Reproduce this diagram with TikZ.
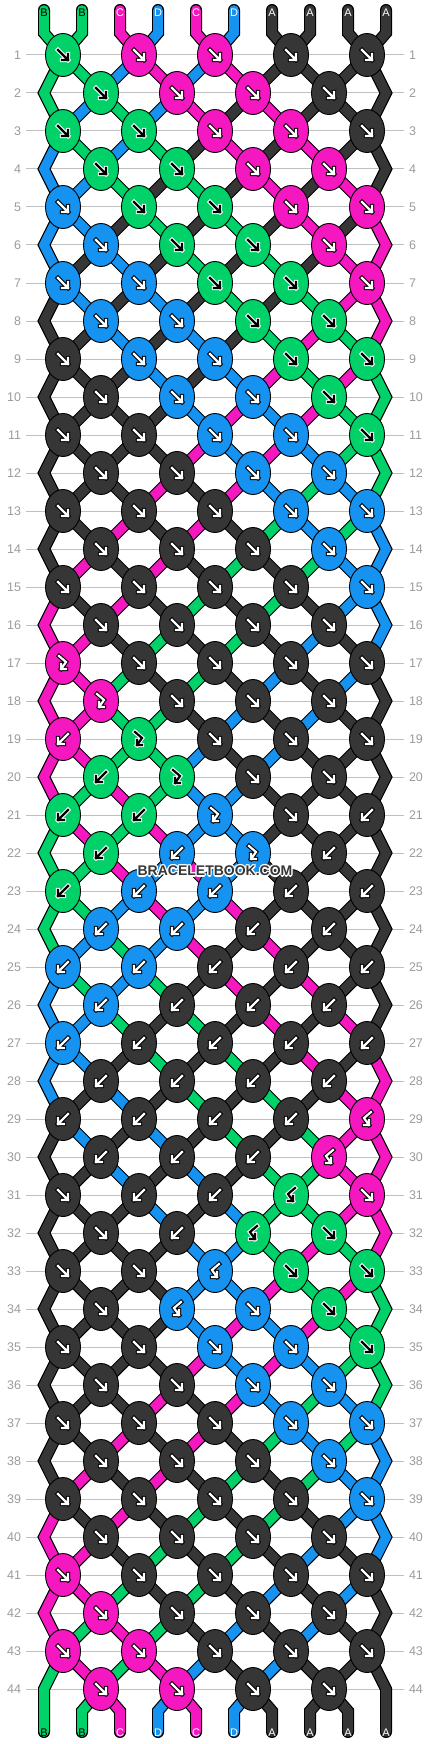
\documentclass[tikz,border=0pt]{standalone}
\usepackage{fontspec}
\setmainfont{Liberation Sans}
\usetikzlibrary{shapes.geometric}
\definecolor{bbgreen}{RGB}{0,209,104}
\definecolor{bbpink}{RGB}{245,24,192}
\definecolor{bbblue}{RGB}{22,146,240}
\definecolor{bbdark}{RGB}{54,54,54}
\definecolor{bbrule}{RGB}{192,192,192}
\definecolor{bbnum}{RGB}{155,155,155}

% thread letter -> fill, arrow and rim colours
\def\colB{bbgreen}\def\colC{bbpink}\def\colD{bbblue}\def\colA{bbdark}
\def\labB{black}\def\labC{white}\def\labD{white}\def\labA{white}
\def\rimB{white}\def\rimC{black}\def\rimD{black}\def\rimA{black}

\pgfdeclarelayer{rules}
\pgfdeclarelayer{threadrim}
\pgfdeclarelayer{threadfill}
\pgfsetlayers{rules,threadrim,threadfill,main}

\tikzset{
  knot/.style={ellipse, draw=black, line width=0.9pt, minimum width=35pt,
    minimum height=43pt, inner sep=0pt},
  rownum/.style={text=bbnum, font=\fontsize{12.5}{13}\selectfont,
    inner sep=0pt, outer sep=5pt},
  rowrule/.style={bbrule, line width=1pt},
  threadedge/.style={draw=black, line width=12pt, line join=miter, line cap=round},
  threadcol/.style={line width=9.6pt, line join=miter, line cap=round},
  arrowrim/.style={line width=4.4pt, line cap=rect, line join=miter},
  arrowfill/.style={line width=2.2pt, line cap=rect, line join=miter},
  endlabel/.style={font=\fontsize{11}{11}\selectfont, inner sep=0pt},
  watermark/.style={font=\fontsize{14}{14}\selectfont\bfseries, inner sep=0pt},
}

\newcount\knotk

% arrow glyph: f forward, b backward, F forward-backward, B backward-forward
\newcommand\knotarrow[3]{%
  \if#1f%
    \draw[arrowrim,draw=#3] (-5,-5) -- (5,5) (5,-1) -- (5,5) -- (-1,5);
    \draw[arrowfill,draw=#2] (-5,-5) -- (5,5) (5,-1) -- (5,5) -- (-1,5);
  \fi
  \if#1b%
    \draw[arrowrim,draw=#3] (5,-5) -- (-5,5) (-5,-1) -- (-5,5) -- (1,5);
    \draw[arrowfill,draw=#2] (5,-5) -- (-5,5) (-5,-1) -- (-5,5) -- (1,5);
  \fi
  \if#1F%
    \draw[arrowrim,draw=#3] (-4,-7) -- (3,-1) -- (-2,6) (-2,1) -- (-2,6) -- (3,6);
    \draw[arrowfill,draw=#2] (-4,-7) -- (3,-1) -- (-2,6) (-2,1) -- (-2,6) -- (3,6);
  \fi
  \if#1B%
    \draw[arrowrim,draw=#3] (4,-7) -- (-3,-1) -- (2,6) (2,1) -- (2,6) -- (-3,6);
    \draw[arrowfill,draw=#2] (4,-7) -- (-3,-1) -- (2,6) (2,1) -- (2,6) -- (-3,6);
  \fi}

\newcommand\placeknot[1]{%
  \ifnum\rowodd=1 \pgfmathtruncatemacro\kp{2*\the\knotk-1}%
  \else\pgfmathtruncatemacro\kp{2*\the\knotk}\fi
  \pgfmathtruncatemacro\kq{\kp+1}%
  \edef\lefts{\csname sp\kp\endcsname}%
  \edef\rights{\csname sp\kq\endcsname}%
  \if#1f\edef\kc{\csname sc\lefts\endcsname}\fi
  \if#1F\edef\kc{\csname sc\lefts\endcsname}\fi
  \if#1b\edef\kc{\csname sc\rights\endcsname}\fi
  \if#1B\edef\kc{\csname sc\rights\endcsname}\fi
  \edef\kfill{\csname col\kc\endcsname}%
  \edef\arrin{\csname lab\kc\endcsname}%
  \edef\arrout{\csname rim\kc\endcsname}%
  \pgfmathsetmacro\kx{215+38*(\kp-5)}%
  \node[knot, fill=\kfill] (k\r-\the\knotk) at (\kx,\yr) {};
  \begin{scope}[shift={(\kx,\yr)}]
    \knotarrow{#1}{\arrin}{\arrout}
  \end{scope}
  \def\kswap{0}\if#1f\def\kswap{1}\fi\if#1b\def\kswap{1}\fi
  \ifnum\kswap=1
    \expandafter\xdef\csname sp\kp\endcsname{\rights}%
    \expandafter\xdef\csname sp\kq\endcsname{\lefts}%
  \fi}

\def\knotscan#1{\ifx#1\relax\else
  \global\advance\knotk by 1 \placeknot{#1}\expandafter\knotscan\fi}

\begin{document}
\begin{tikzpicture}[x=1pt, y=-1pt]
\useasboundingbox (0,0) rectangle (430,1744);

% threads at the top
\foreach \p/\t in {1/B,2/B,3/C,4/D,5/C,6/D,7/A,8/A,9/A,10/A}{
  \pgfmathsetmacro\sx{215+38*(\p-5.5)}
  \expandafter\xdef\csname sp\p\endcsname{\p}
  \expandafter\xdef\csname sc\p\endcsname{\t}
  \expandafter\xdef\csname pa\p\endcsname{(\sx,10) -- (\sx,33)}
  \edef\lc{\csname lab\t\endcsname}
  \node[endlabel, text=\lc] (top\p) at (\sx,13) {\t};
}

% rows of knots
\foreach \r/\kt in {1/fffff,2/ffff,3/fffff,4/ffff,5/fffff,6/ffff,7/fffff,8/ffff,
    9/fffff,10/ffff,11/fffff,12/ffff,13/fffff,14/ffff,15/fffff,16/ffff,
    17/Fffff,18/Ffff,19/bFfff,20/bFff,21/bbFfb,22/bbFb,23/bbbbb,24/bbbb,
    25/bbbbb,26/bbbb,27/bbbbb,28/bbbb,29/bbbbB,30/bbbB,31/fbbBf,32/fbBf,
    33/ffBff,34/fBff,35/fffff,36/ffff,37/fffff,38/ffff,39/fffff,40/ffff,
    41/fffff,42/ffff,43/fffff,44/ffff}{
  \pgfmathsetmacro\yr{55+38*(\r-1)}
  \pgfmathtruncatemacro\rowodd{mod(\r,2)}
  \node[rownum, anchor=east] (ln\r) at (26,\yr) {\r};
  \node[rownum, anchor=west] (rn\r) at (404,\yr) {\r};
  \begin{pgfonlayer}{rules}
    \draw[rowrule] (ln\r) -- (rn\r);
  \end{pgfonlayer}
  % extend every thread to this row
  \foreach \p in {1,...,10}{
    \ifnum\rowodd=1
      \pgfmathsetmacro\px{215+38*(2*ceil(\p/2)-6)}
    \else
      \ifnum\p=1 \def\px{44}\else\ifnum\p=10 \def\px{386}\else
        \pgfmathsetmacro\px{215+38*(2*floor(\p/2)-5)}\fi\fi
    \fi
    \edef\sid{\csname sp\p\endcsname}
    \expandafter\xdef\csname pa\sid\endcsname{\csname pa\sid\endcsname -- (\px,\yr)}
  }
  \global\knotk=0
  \expandafter\knotscan\kt\relax
}

% threads at the bottom
\foreach \p in {1,...,10}{
  \pgfmathsetmacro\sx{215+38*(\p-5.5)}
  \edef\sid{\csname sp\p\endcsname}
  \expandafter\xdef\csname pa\sid\endcsname{\csname pa\sid\endcsname -- (\sx,1711) -- (\sx,1732)}
  \edef\lt{\csname sc\sid\endcsname}
  \edef\lc{\csname lab\lt\endcsname}
  \node[endlabel, text=\lc] (bot\p) at (\sx,1733) {\lt};
}

% draw the threads
\foreach \s in {1,...,10}{
  \edef\scol{\csname col\csname sc\s\endcsname\endcsname}
  \edef\tmp{\noexpand\draw[threadedge] \csname pa\s\endcsname;}
  \begin{pgfonlayer}{threadrim}\tmp\end{pgfonlayer}
  \edef\tmp{\noexpand\draw[threadcol, draw=\scol] \csname pa\s\endcsname;}
  \begin{pgfonlayer}{threadfill}\tmp\end{pgfonlayer}
}

% watermark
\foreach \dx/\dy [count=\h] in {1.2/0,-1.2/0,0/1.2,0/-1.2,.9/.9,-.9/.9,.9/-.9,-.9/-.9}
  \node[watermark, text=white] (wmh\h) at (215+\dx,871+\dy) {BRACELETBOOK.COM};
\node[watermark, text=bbdark] (wm) at (215,871) {BRACELETBOOK.COM};
\end{tikzpicture}
\end{document}
